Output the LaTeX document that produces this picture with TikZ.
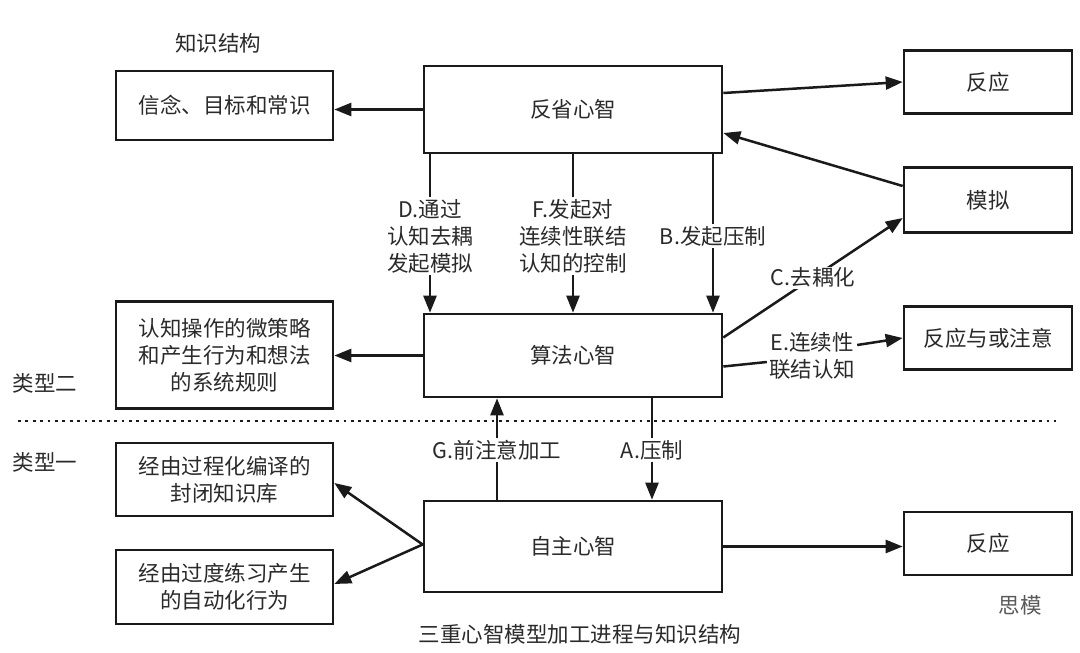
\documentclass[tikz,border=0pt]{standalone}
\usepackage{fontspec}
\setmainfont{Noto Sans CJK SC}
\usetikzlibrary{arrows.meta}
\definecolor{txt}{HTML}{2A2A2A}
\definecolor{lnc}{HTML}{1A1A1A}
\newcommand\dfont{\fontsize{21.5}{27}\selectfont}
\begin{document}
\begin{tikzpicture}[x=1pt,y=-1pt,
  bx/.style={draw=lnc, line width=2.6pt, inner sep=0pt, align=center, font=\dfont, text=txt},
  ln/.style={draw=lnc, line width=2.5pt},
  arr/.style={draw=lnc, line width=2.5pt, -{Triangle[length=17pt,width=13pt]}},
  lab/.style={inner sep=2pt, align=center, font=\dfont, text=txt},
]
\useasboundingbox[fill=white] (0,0) rectangle (1080,653);

% boxes
\node[bx, minimum width=298pt, minimum height=87pt] (refl) at (573,109.5) {反省心智};
\node[bx, minimum width=217pt, minimum height=69pt] (belief) at (224.5,105.5) {信念、目标和常识};
\node[bx, minimum width=168pt, minimum height=63pt] (resp1) at (988,82) {反应};
\node[bx, minimum width=168pt, minimum height=65pt] (sim) at (988,200) {模拟};
\node[bx, minimum width=168pt, minimum height=63pt] (ro) at (988,338) {反应与或注意};
\node[bx, minimum width=298pt, minimum height=83pt] (alg) at (573,355.5) {算法心智};
\node[bx, minimum width=217pt, minimum height=107pt] (micro) at (224.5,355) {认知操作的微策略\\和产生行为和想法\\的系统规则};
\node[bx, minimum width=217pt, minimum height=73pt] (proc) at (224.5,479.5) {经由过程化编译的\\封闭知识库};
\node[bx, minimum width=217pt, minimum height=74pt] (over) at (224.5,587) {经由过度练习产生\\的自动化行为};
\node[bx, minimum width=298pt, minimum height=91pt] (auto) at (573,546.5) {自主心智};
\node[bx, minimum width=168pt, minimum height=63pt] (resp2) at (988,543.5) {反应};

% free texts
\node[lab] (ks) at (218,43) {知识结构};
\node[lab] (t2) at (45,383) {类型二};
\node[lab] (t1) at (45,462) {类型一};
\node[lab] (cap) at (580,634) {三重心智模型加工进程与知识结构};
\node[lab, text=gray!70!black] (wm) at (1020,605) {思模};

% dotted separator
\coordinate (dl1) at (18,421);
\coordinate (dl2) at (1056,421);
\draw[lnc, line width=2.8pt, dash pattern=on 2.8pt off 4.6pt] (dl1) -- (dl2);

% top connectors
\draw[arr] (refl.west) -- (refl.west -| belief.east);
\draw[arr] ([yshift=16.5pt]refl.east) -- (resp1.west);
\draw[arr] ([yshift=14pt]sim.west) -- ([yshift=-23.5pt]refl.east);

% D, F, B
\node[lab] (Dl) at (430,236) {D.通过\\认知去耦\\发起模拟};
\node[lab] (Fl) at (573,236) {F.发起对\\连续性联结\\认知的控制};
\node[lab] (Bl) at (713,236) {B.发起压制};
\draw[ln] (refl.south -| Dl) -- (Dl.north);
\draw[arr] (Dl.south) -- (alg.north -| Dl);
\draw[ln] (refl.south -| Fl) -- (Fl.north);
\draw[arr] (Fl.south) -- (alg.north -| Fl);
\draw[ln] (refl.south -| Bl) -- (Bl.north);
\draw[arr] (Bl.south) -- (alg.north -| Bl);

% C and E
\draw[arr] ([yshift=18pt]alg.east) -- node[lab, fill=white, inner sep=1pt] (Cl) {C.去耦化} ([yshift=-18pt]sim.west);
\node[lab] (El) at (812,356) {E.连续性\\联结认知};
\draw[ln] ([yshift=-11pt]alg.east) -- ([yshift=-6pt]El.west);
\draw[arr] ([yshift=11pt]El.east) -- (ro.west);

% left from alg
\draw[arr] (alg.west) -- (alg.west -| micro.east);

% G and A
\node[lab, fill=white] (Gl) at (497,450) {G.前注意加工};
\node[lab, fill=white] (Al) at (652,450) {A.压制};
\draw[ln] (auto.north -| Gl) -- (Gl.south);
\draw[arr] (Gl.north) -- (alg.south -| Gl);
\draw[ln] (alg.south -| Al) -- (Al.north);
\draw[arr] (Al.south) -- (auto.north -| Al);

% autonomous mind connectors
\draw[arr] ([yshift=2pt]auto.west) -- ([yshift=-3.5pt]proc.east);
\draw[arr] ([yshift=2pt]auto.west) -- ([yshift=3pt]over.east);
\draw[arr] (auto.east) -- (auto.east -| resp2.west);
\end{tikzpicture}
\end{document}
